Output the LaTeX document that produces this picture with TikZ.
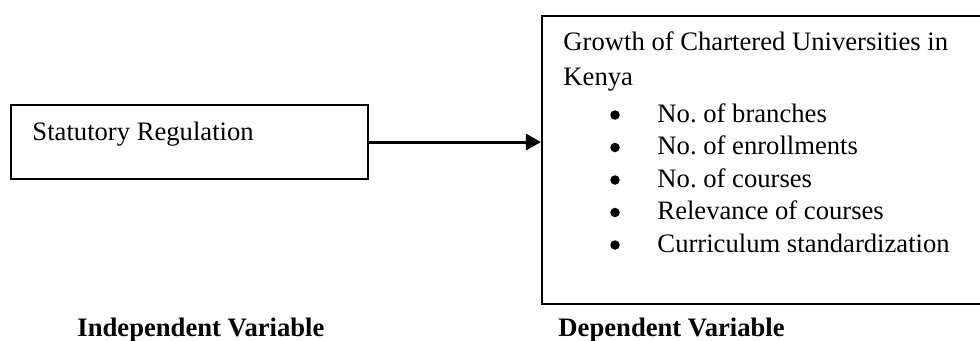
\documentclass[tikz,border=0pt]{standalone}
\usepackage{fontspec}
\setmainfont{Liberation Serif}
\usetikzlibrary{arrows.meta}
\newlength\pxu
\setlength\pxu{0.41667pt}
\frenchspacing
\begin{document}
\begin{tikzpicture}[x=\pxu,y=-\pxu,
  box/.style={draw=black, line width=0.85pt, rectangle, inner sep=0pt, anchor=north west},
  txt/.style={anchor=base west, inner sep=0pt, font=\fontsize{11.1}{13}\selectfont\frenchspacing},
  bul/.style={circle, fill=black, inner sep=0pt, minimum size=9.5\pxu},
  lbl/.style={anchor=base west, inner sep=0pt, font=\fontsize{11.1}{13}\selectfont\bfseries},
  conn/.style={line width=1.25pt, -{Triangle[length=6.3pt,width=6.7pt]}}]
\useasboundingbox (0,0) rectangle (980,340);
\clip (0,0) rectangle (980,340);
% independent variable box
\node[box, minimum width=357\pxu, minimum height=74\pxu] (iv) at (10,104) {};
\node[txt] (ivt) at (32,140) {Statutory Regulation};
% dependent variable box (runs past the right edge)
\node[box, minimum width=460\pxu, minimum height=288\pxu] (dv) at (541,15) {};
\node[txt] (dv1) at (563,50) {Growth of Chartered Universities in};
\node[txt] (dv2) at (563,85) {Kenya};
\foreach \y/\t [count=\i] in {122/No. of branches, 154.5/No. of enrollments, 187/No. of courses, 219.5/Relevance of courses, 252/Curriculum standardization}{
  \node[bul] (b\i) at (615,\y-7) {};
  \node[txt] (it\i) at (657,\y) {\t};
}
% connector
\draw[conn] (iv.east) -- (iv.east -| dv.west);
% labels
\node[lbl] (lind) at (77,336) {Independent Variable};
\node[lbl] (ldep) at (558,336) {Dependent Variable};
\end{tikzpicture}
\end{document}
